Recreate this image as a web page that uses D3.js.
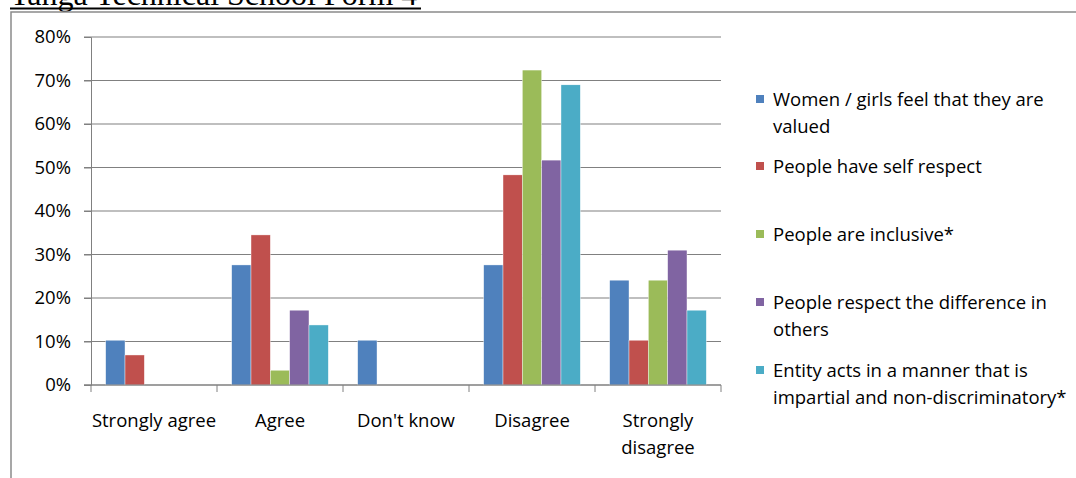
<!DOCTYPE html>
<html>
<head>
<meta charset="utf-8">
<script src="https://cdn.jsdelivr.net/npm/d3@7"></script>
<style>
  body { margin: 0; background: #fff; }
  svg { display: block; }
  text { font-family: "Open Sans", "Liberation Sans", sans-serif; fill: #000; }
</style>
</head>
<body>
<svg id="chart" width="1076" height="478"></svg>
<script>
// categories on the x axis
const categories = ["Strongly agree", "Agree", "Don't know", "Disagree", "Strongly disagree"];
// series names (legend)
const seriesNames = [
  "Women / girls feel that they are valued",
  "People have self respect",
  "People are inclusive*",
  "People respect the difference in others",
  "Entity acts in a manner that is impartial and non-discriminatory*"
];
// values per series, in category order
const women    = [0.103, 0.276, 0.103, 0.276, 0.241];
const selfResp = [0.069, 0.345, 0,     0.483, 0.103];
const inclus   = [0,     0.034, 0,     0.724, 0.241];
const respDiff = [0,     0.172, 0,     0.517, 0.310];
const entity   = [0,     0.138, 0,     0.690, 0.172];
const yTicks = [0, 0.1, 0.2, 0.3, 0.4, 0.5, 0.6, 0.7, 0.8];
const colors = ["#4F81BD", "#C0504D", "#9BBB59", "#8064A2", "#4BACC6"];

const allSeries = [women, selfResp, inclus, respDiff, entity];

var svg = d3.select('#chart');
const W = +svg.attr('width');
const H = +svg.attr('height');

// title cut off at the top, underlined
svg.append('text').text("Tanga Technical School Form 4")
    .attr('x', 10).attr('y', 5)
    .style('font-family', '"Liberation Serif", "Times New Roman", serif')
    .style('font-size', '32px');
svg.append('line')
    .attr('x1', 10).attr('x2', 421).attr('y1', 8.5).attr('y2', 8.5)
    .style('stroke', '#000').style('stroke-width', 2);

// chart frame
svg.append('rect')
    .attr('x', 11).attr('y', 12).attr('width', W).attr('height', H)
    .attr('fill', 'none').style('stroke', '#8a8a8a').style('stroke-width', 1.5);

const margin = {left: 91, right: 355, top: 37, bottom: 93};

const x0 = d3.scaleBand().domain(categories).range([margin.left, W - margin.right]).padding(0);
const x1 = d3.scaleBand().domain(d3.range(seriesNames.length))
    .range([0, x0.bandwidth()]).paddingOuter(0.76).paddingInner(0);
const y = d3.scaleLinear().domain([0, 0.8]).range([H - margin.bottom, margin.top]);

// gridlines
svg.append('g').selectAll('line').data(yTicks).enter().append('line')
    .attr('x1', margin.left - 7).attr('x2', W - margin.right)
    .attr('y1', d => y(d)).attr('y2', d => y(d))
    .style('stroke', '#808080').style('stroke-width', 1.2);

// y axis
const yAxis = svg.append('g')
    .attr('transform', 'translate(' + margin.left + ',0)')
    .call(d3.axisLeft(y).tickValues(yTicks).tickFormat(d3.format('.0%')).tickSize(7).tickPadding(13));
yAxis.selectAll('path, line').style('stroke', '#808080');
yAxis.selectAll('text').style('font-size', '18.5px').style('font-family', '"Open Sans", sans-serif');

// bars
const groups = svg.append('g').selectAll('g').data(categories).enter().append('g')
    .attr('transform', d => 'translate(' + x0(d) + ',0)');
groups.selectAll('rect').data((c, ci) => allSeries.map((s, si) => ({si: si, v: s[ci]})))
    .enter().append('rect')
    .attr('x', d => x1(d.si))
    .attr('width', x1.bandwidth())
    .attr('y', d => y(d.v))
    .attr('height', d => y(0) - y(d.v))
    .attr('fill', d => colors[d.si])
    .style('stroke', '#fff').style('stroke-width', 0.4);

// x axis line + ticks between categories
svg.append('line')
    .attr('x1', margin.left - 7).attr('x2', W - margin.right)
    .attr('y1', y(0)).attr('y2', y(0))
    .style('stroke', '#808080').style('stroke-width', 1.2);
const bounds = categories.map(c => x0(c)).concat([x0(categories[categories.length - 1]) + x0.bandwidth()]);
svg.append('g').selectAll('line').data(bounds).enter().append('line')
    .attr('x1', d => d).attr('x2', d => d)
    .attr('y1', y(0)).attr('y2', y(0) + 7)
    .style('stroke', '#808080');

// x labels
const xLabelLines = [["Strongly agree"], ["Agree"], ["Don't know"], ["Disagree"], ["Strongly", "disagree"]];
categories.forEach((c, i) => {
    const t = svg.append('text')
        .attr('x', x0(c) + x0.bandwidth() / 2)
        .attr('y', 427)
        .attr('text-anchor', 'middle')
        .style('font-size', '18.5px');
    xLabelLines[i].forEach((l, j) => {
        t.append('tspan').attr('x', x0(c) + x0.bandwidth() / 2).attr('dy', j === 0 ? 0 : 26.5).text(l);
    });
});

// legend
const legendLines = [
    ["Women / girls feel that they are", "valued"],
    ["People have self respect"],
    ["People are inclusive*"],
    ["People respect the difference in", "others"],
    ["Entity acts in a manner that is", "impartial and non-discriminatory*"]
];
const legendY = [106, 173, 241, 309, 377];
var legend = svg.append('g');
legendLines.forEach((lines, i) => {
    legend.append('rect')
        .attr('x', 756).attr('y', legendY[i] - 11)
        .attr('width', 8).attr('height', 8)
        .attr('fill', colors[i]);
    const t = legend.append('text')
        .attr('x', 773).attr('y', legendY[i])
        .style('font-size', '18.5px');
    lines.forEach((l, j) => {
        t.append('tspan').attr('x', 773).attr('dy', j === 0 ? 0 : 26.5).text(l);
    });
});
</script>
</body>
</html>
